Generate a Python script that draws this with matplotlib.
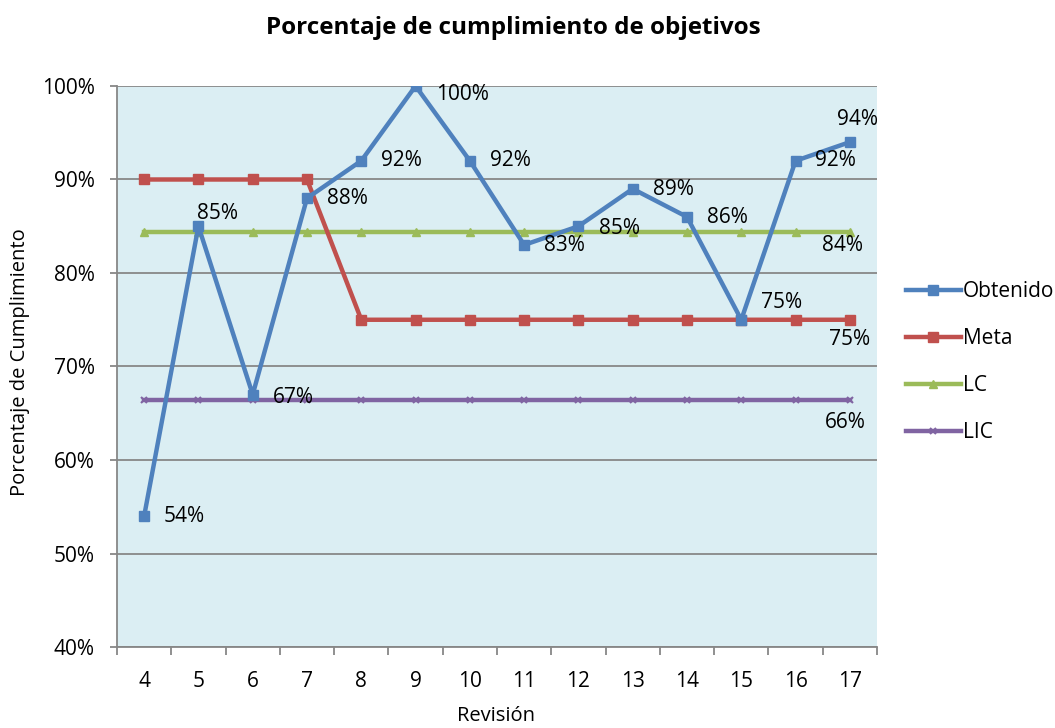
import matplotlib.pyplot as plt
from matplotlib.ticker import FixedLocator, PercentFormatter

plt.rcParams['font.family'] = ['Open Sans', 'DejaVu Sans']

revisions = [4, 5, 6, 7, 8, 9, 10, 11, 12, 13, 14, 15, 16, 17]
obtenido = [54, 85, 67, 88, 92, 100, 92, 83, 85, 89, 86, 75, 92, 94]
meta = [90, 90, 90, 90, 75, 75, 75, 75, 75, 75, 75, 75, 75, 75]
lc = [84.4] * 14
lic = [66.4] * 14

BLUE = '#4F81BD'
RED = '#C0504D'
GREEN = '#9BBB59'
PURPLE = '#8064A2'
GRID = '#878787'
FS = 15

fig = plt.figure(figsize=(10.55, 7.28), dpi=100)
ax = fig.add_axes([117 / 1055, 1 - 647 / 728, 760 / 1055, 561 / 728])
ax.set_facecolor('#DBEEF3')

ax.plot(revisions, obtenido, color=BLUE, lw=3.2, marker='s', ms=7, label='Obtenido', zorder=5)
ax.plot(revisions, meta, color=RED, lw=3.2, marker='s', ms=7, label='Meta', zorder=4)
ax.plot(revisions, lc, color=GREEN, lw=3.2, marker='^', ms=6, label='LC', zorder=3)
ax.plot(revisions, lic, color=PURPLE, lw=3.2, marker='x', ms=5, mew=1.5, label='LIC', zorder=3)

# data label offsets (pixels) for the Obtenido series
offsets = [(40, 0), (19, 13), (41, -3), (40, 0), (40, 0), (47, -9), (41, 0),
           (40, -1), (41, -2), (41, -1), (40, -1), (40, 17), (40, 0), (8, 23)]
for x, y, (dx, dy) in zip(revisions, obtenido, offsets):
    ax.annotate(f'{y:.0f}%', (x, y), xytext=(dx, dy), textcoords='offset pixels',
                ha='center', va='center', fontsize=FS, zorder=6)

ax.annotate(f'{lc[-1]:.0f}%', (revisions[-1], lc[-1]), xytext=(-7, -14),
            textcoords='offset pixels', ha='center', va='center', fontsize=FS)
ax.annotate(f'{meta[-1]:.0f}%', (revisions[-1], meta[-1]), xytext=(0, -20),
            textcoords='offset pixels', ha='center', va='center', fontsize=FS)
ax.annotate(f'{lic[-1]:.0f}%', (revisions[-1], lic[-1]), xytext=(-5, -22),
            textcoords='offset pixels', ha='center', va='center', fontsize=FS)

ax.set_xlim(3.5, 17.5)
ax.set_ylim(40, 100)
ax.set_yticks(range(40, 101, 10))
ax.yaxis.set_major_formatter(PercentFormatter(decimals=0))
ax.yaxis.grid(True, color=GRID, lw=1.3)
ax.set_axisbelow(True)

ax.set_xticks(revisions)
ax.xaxis.set_minor_locator(FixedLocator([r - 0.5 for r in revisions] + [17.5]))
ax.tick_params(axis='x', which='major', length=0, pad=17, labelsize=FS)
ax.tick_params(axis='x', which='minor', length=6, color=GRID, width=1.3)
ax.tick_params(axis='y', length=5, color=GRID, width=1.3, labelsize=FS, pad=11)

for s in ['top', 'right']:
    ax.spines[s].set_visible(False)
for s in ['left', 'bottom']:
    ax.spines[s].set_color(GRID)
    ax.spines[s].set_linewidth(1.3)

fig.text(496 / 1055, 1 - 716 / 728, 'Revisión', ha='center', va='center', fontsize=14.5)
fig.text(20 / 1055, 1 - 362 / 728, 'Porcentaje de Cumplimiento', ha='center',
         va='center', rotation=90, fontsize=14.5)
fig.text(513 / 1055, 1 - 28 / 728, 'Porcentaje de cumplimiento de objetivos',
         ha='center', va='center', fontsize=17.5, fontweight='bold')

ax.legend(loc='center left', bbox_to_anchor=(898 / 1055, 1 - 362 / 728),
          bbox_transform=fig.transFigure, frameon=False, borderaxespad=0,
          fontsize=FS, handlelength=2.6, handletextpad=0.1, labelspacing=1.25)

fig.savefig('out.png', dpi=100)
